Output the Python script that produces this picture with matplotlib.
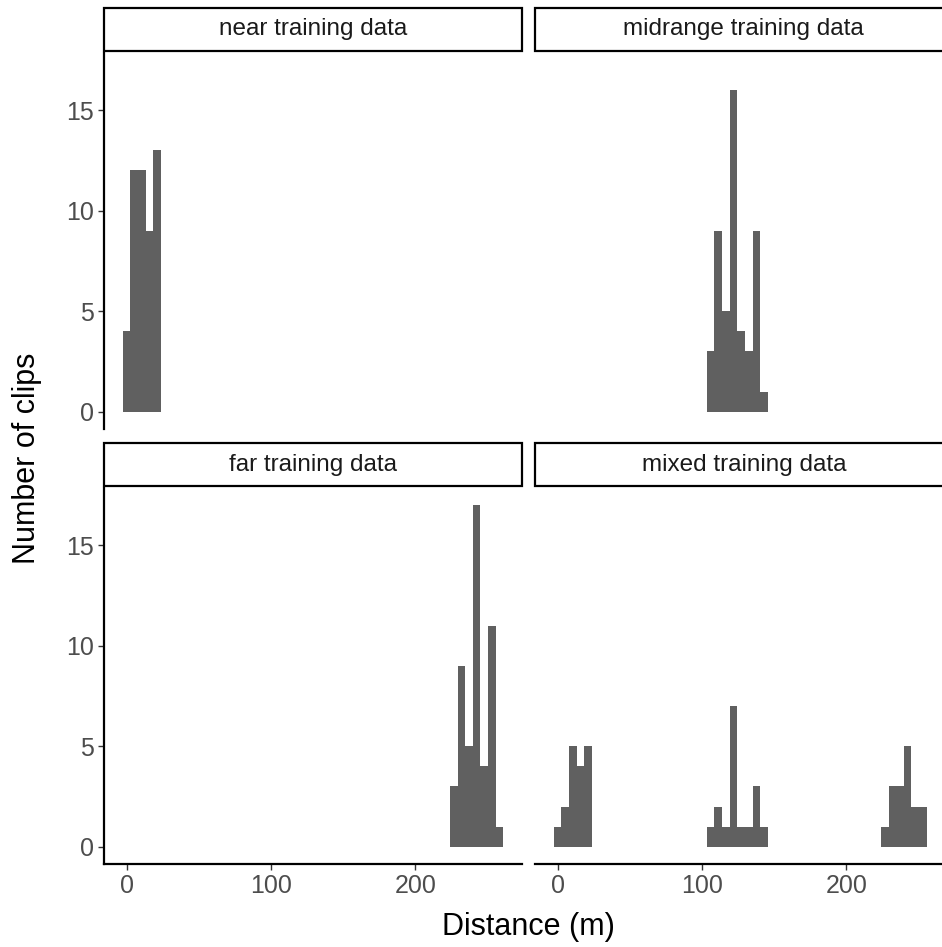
import matplotlib
matplotlib.use("Agg")
import matplotlib.pyplot as plt
from matplotlib.patches import Rectangle

plt.rcParams['font.family'] = ['Liberation Sans', 'DejaVu Sans']

# ---- data (bin centres in metres, counts of clips) ----
bin_width = 5.3
near_x = [0.0, 5.3, 10.6, 15.9, 21.2]
mid_x = [106.0, 111.3, 116.6, 121.9, 127.2, 132.5, 137.8, 143.1]
far_x = [226.6, 231.9, 237.2, 242.5, 247.8, 253.1, 258.4]

near_counts = [4, 12, 12, 9, 13]
mid_counts = [3, 9, 5, 16, 4, 3, 9, 1]
far_counts = [3, 9, 5, 17, 4, 11, 1]
mixed_near_counts = [1, 2, 5, 4, 5]
mixed_mid_counts = [1, 2, 1, 7, 1, 1, 3, 1]
mixed_far_counts = [1, 3, 3, 5, 2, 2]

panel_titles = ["near training data", "midrange training data",
                "far training data", "mixed training data"]
x_ticks = [0, 100, 200]
y_ticks = [0, 5, 10, 15]

W, H = 942, 947
fig = plt.figure(figsize=(W / 100, H / 100), dpi=100)

def ax_rect(x0, y0, x1, y1):
    return [x0 / W, 1 - y1 / H, (x1 - x0) / W, (y1 - y0) / H]

col_x = [(104, 521.7), (535, 952.7)]
row_y = [(52.9, 428.8), (488, 863.8)]
strip_h = 43

panels = [
    [(near_x, near_counts)],
    [(mid_x, mid_counts)],
    [(far_x, far_counts)],
    [(near_x, mixed_near_counts), (mid_x, mixed_mid_counts),
     (far_x[:len(mixed_far_counts)], mixed_far_counts)],
]

bar_color = "#606060"
xlim = (-15.7, 273.7)
ylim = (-0.85, 17.85)

for i, series in enumerate(panels):
    r, c = divmod(i, 2)
    x0, x1 = col_x[c]
    y0, y1 = row_y[r]
    ax = fig.add_axes(ax_rect(x0, y0, x1, y1))
    for xs, cs in series:
        ax.bar(xs, cs, width=bin_width, color=bar_color, linewidth=0)
    ax.set_xlim(*xlim)
    ax.set_ylim(*ylim)
    for s in ["top", "right"]:
        ax.spines[s].set_visible(False)
    ax.spines["left"].set_visible(c == 0)
    ax.spines["bottom"].set_visible(r == 1)
    for s in ["left", "bottom"]:
        ax.spines[s].set_linewidth(1.6)
        ax.spines[s].set_color("black")
    ax.set_xticks(x_ticks)
    ax.set_yticks(y_ticks)
    ax.tick_params(axis="both", length=4, width=1.0, color="#333333",
                   labelsize=18, labelcolor="#4D4D4D", pad=3)
    if c != 0:
        ax.tick_params(axis="y", left=False, labelleft=False)
    if r != 1:
        ax.tick_params(axis="x", bottom=False, labelbottom=False)
    # strip
    sax = fig.add_axes(ax_rect(x0, y0 - strip_h - 2, x1, y0 - 2))
    sax.set_xlim(0, 1)
    sax.set_ylim(0, 1)
    sax.axis("off")
    sax.add_patch(Rectangle((0, 0), 1, 1, transform=sax.transAxes,
                            facecolor="white", edgecolor="black",
                            linewidth=1.6, clip_on=False))
    sax.text(0.5, 0.5, panel_titles[i], ha="center", va="center",
             fontsize=17.5, color="#1A1A1A")

fig.text(528 / W, 1 - 927 / H, "Distance (m)", ha="center", va="center",
         fontsize=22, color="black")
fig.text(27 / W, 1 - 458 / H, "Number of clips", ha="center", va="center",
         rotation=90, fontsize=22, color="black")

fig.savefig("out.png", dpi=100, facecolor="white")
